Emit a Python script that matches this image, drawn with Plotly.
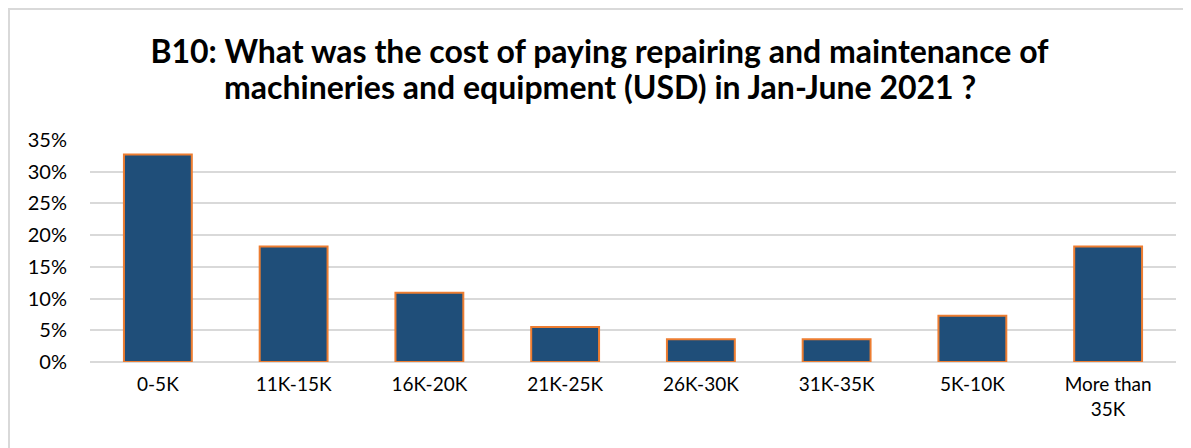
import plotly.graph_objects as go

# Cost of repairs/maintenance, Jan-June 2021 (share of respondents)
categories = ["0-5K", "11K-15K", "16K-20K", "21K-25K", "26K-30K", "31K-35K", "5K-10K", "More than<br>35K"]
shares = [0.327, 0.182, 0.109, 0.055, 0.036, 0.036, 0.073, 0.182]
y_ticks = [0, 0.05, 0.10, 0.15, 0.20, 0.25, 0.30, 0.35]

title_line1 = "B10: What was the cost of paying repairing and maintenance of"
title_line2 = "machineries and equipment (USD) in Jan-June 2021 ?"

title_font = dict(family="Lato, sans-serif", size=32, color="#000000", weight="bold")

fig = go.Figure()

fig.add_trace(
    go.Bar(
        x=categories,
        y=shares,
        marker=dict(color="#1F4E79", line=dict(color="#ED7D31", width=2)),
        hoverinfo="x+y",
    )
)

# the page body adds 8px around the figure, so the figure is 8px smaller
fig.update_layout(
    width=1183,
    height=440,
    margin=dict(l=82, r=15, t=132, b=86, autoexpand=False),
    paper_bgcolor="white",
    plot_bgcolor="white",
    font=dict(family="Lato, 'Open Sans', sans-serif", color="#000000"),
    title=dict(
        text=title_line1,
        x=0.5,
        xanchor="center",
        y=0.9,
        yanchor="middle",
        font=title_font,
    ),
    bargap=0.5,
    showlegend=False,
    shapes=[
        # chart-area border (only top/left visible in the crop)
        dict(type="rect", xref="paper", yref="paper",
             x0=-0.0746, x1=1.03, y0=-0.45, y1=1.59,
             line=dict(color="#D9D9D9", width=2), fillcolor="rgba(0,0,0,0)",
             layer="below"),
    ],
    annotations=[
        # second title line, placed separately for tighter line spacing
        dict(text=title_line2, xref="paper", yref="paper",
             x=(1183 / 2 - 82) / 1086, y=1.239, xanchor="center", yanchor="middle",
             showarrow=False, font=title_font),
    ],
)

fig.update_xaxes(
    automargin=False,
    showgrid=False,
    showline=False,
    ticks="",
    ticklabelstandoff=9,
    tickfont=dict(size=19, color="#000000"),
)

fig.update_yaxes(
    automargin=False,
    range=[0, 0.35],
    tickvals=y_ticks,
    tickformat=".0%",
    showgrid=True,
    gridcolor="#D9D9D9",
    gridwidth=1.5,
    zeroline=True,
    zerolinecolor="#D9D9D9",
    zerolinewidth=1.5,
    showline=False,
    ticks="",
    ticklabelstandoff=22,
    tickfont=dict(size=20, color="#000000"),
)

fig.write_html("out.html")
